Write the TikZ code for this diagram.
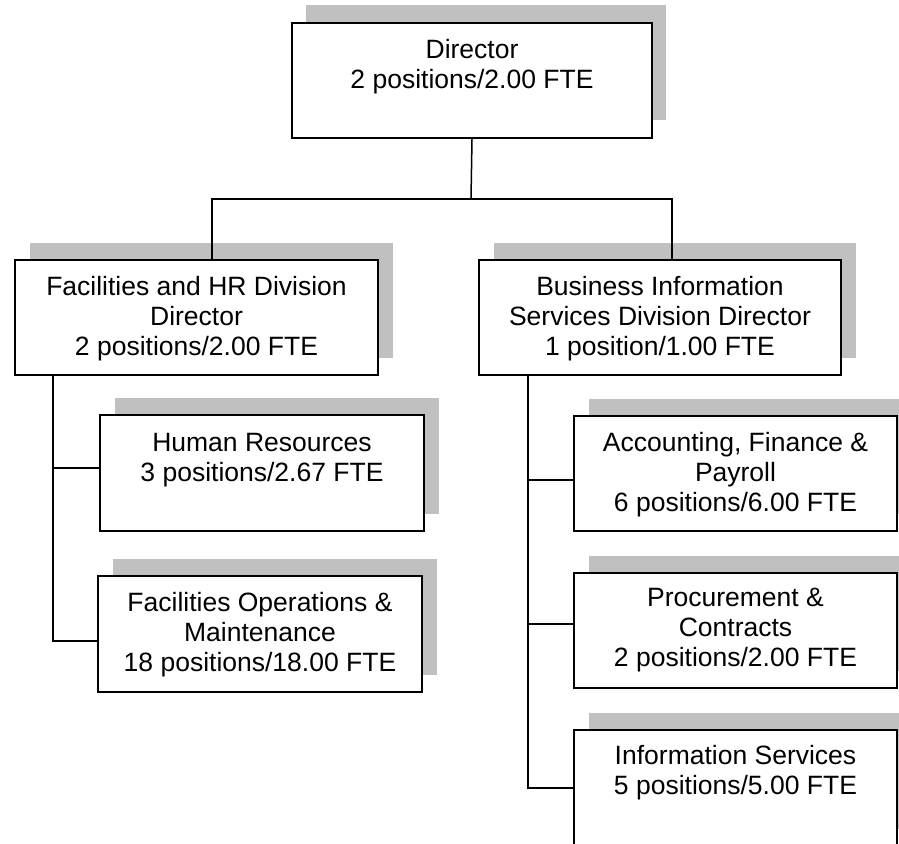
\documentclass[tikz,border=0pt]{standalone}
\usepackage{fontspec}
\setmainfont{Liberation Sans}
\begin{document}
\begin{tikzpicture}[x=1pt,y=-1pt,
  box/.style={draw=black, line width=2pt, fill=white, inner sep=0pt, anchor=north west},
  shadowbox/.style={fill=shadowgray, draw=none},
  lbl/.style={align=center, inner sep=0pt, anchor=north, font=\fontsize{26.5}{30}\selectfont},
  conn/.style={draw=black, line width=1.5pt}]
\definecolor{shadowgray}{HTML}{C0C0C0}
\clip (0,0) rectangle (899,843);
\fill[white] (0,0) rectangle (899,843);

% shadows
\fill[shadowgray] (306,5) rectangle ++(360,115);
\fill[shadowgray] (30,243) rectangle ++(363,115);
\fill[shadowgray] (494,243) rectangle ++(362,115);
\fill[shadowgray] (115,398) rectangle ++(324,116);
\fill[shadowgray] (113,559) rectangle ++(324,116);
\fill[shadowgray] (589,399) rectangle ++(323,115);
\fill[shadowgray] (589,556) rectangle ++(323,115);
\fill[shadowgray] (589,713) rectangle ++(323,116);

% boxes
\node[box, minimum width=360pt, minimum height=115pt] (dir) at (291,22) {};
\node[box, minimum width=363pt, minimum height=115pt] (fhr) at (14,259) {};
\node[box, minimum width=362pt, minimum height=115pt] (bis) at (478,259) {};
\node[box, minimum width=324pt, minimum height=116pt] (hr) at (99,414) {};
\node[box, minimum width=324pt, minimum height=116pt] (fom) at (97,575) {};
\node[box, minimum width=323pt, minimum height=115pt] (afp) at (573,415) {};
\node[box, minimum width=323pt, minimum height=115pt] (pc) at (573,572) {};
\node[box, minimum width=323pt, minimum height=116pt] (is) at (573,729) {};

% labels
\node[lbl] (tdir) at ([yshift=-17pt]dir.north) {Director\\2 positions/2.00 FTE};
\node[lbl] (tfhr) at ([yshift=-17pt]fhr.north) {Facilities and HR Division\\Director\\2 positions/2.00 FTE};
\node[lbl] (tbis) at ([yshift=-17pt]bis.north) {Business Information\\Services Division Director\\1 position/1.00 FTE};
\node[lbl] (thr) at ([yshift=-19pt]hr.north) {Human Resources\\3 positions/2.67 FTE};
\node[lbl] (tfom) at ([yshift=-17pt]fom.north) {Facilities Operations \&\\Maintenance\\18 positions/18.00 FTE};
\node[lbl] (tafp) at ([yshift=-17pt]afp.north) {Accounting, Finance \&\\Payroll\\6 positions/6.00 FTE};
\node[lbl] (tpc) at ([yshift=-16pt]pc.north) {Procurement \&\\Contracts\\2 positions/2.00 FTE};
\node[lbl] (tis) at ([yshift=-16pt]is.north) {Information Services\\5 positions/5.00 FTE};

% connectors
\coordinate (bus) at (471,199);
\coordinate (fin) at (212,259);
\coordinate (bin) at (672,259);
\draw[conn] (dir.south) -- (bus);
\draw[conn] (fin) |- (bus) -| (bin);

\coordinate (L1) at (53,468);
\coordinate (L2) at (53,641);
\draw[conn] (fhr.south -| L1) -- (L2) -- (L2 -| fom.west);
\draw[conn] (L1) -- (L1 -| hr.west);

\coordinate (R1) at (528,480);
\coordinate (R2) at (528,624);
\coordinate (R3) at (528,788);
\draw[conn] (bis.south -| R1) -- (R3) -- (R3 -| is.west);
\draw[conn] (R1) -- (R1 -| afp.west);
\draw[conn] (R2) -- (R2 -| pc.west);
\end{tikzpicture}
\end{document}
